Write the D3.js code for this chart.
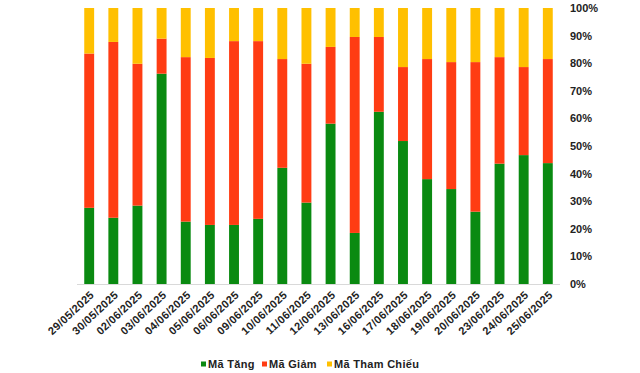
<!DOCTYPE html>
<html>
<head>
<meta charset="utf-8">
<script src="https://cdn.jsdelivr.net/npm/d3@7"></script>
<style>
  body { margin: 0; background: #fff; }
  text { font-family: Arial, "Liberation Sans", sans-serif; font-weight: bold; fill: #222; }
</style>
</head>
<body>
<div id="chart"></div>
<script>
var svgWidth = 640;
var svgHeight = 373;

// Data (percent of codes)
var dates = ["29/05/2025", "30/05/2025", "02/06/2025", "03/06/2025", "04/06/2025",
  "05/06/2025", "06/06/2025", "09/06/2025", "10/06/2025", "11/06/2025",
  "12/06/2025", "13/06/2025", "16/06/2025", "17/06/2025", "18/06/2025",
  "19/06/2025", "20/06/2025", "23/06/2025", "24/06/2025", "25/06/2025"];
var maTang = [27.6, 24.0, 28.4, 76.2, 22.6, 21.4, 21.4, 23.6, 42.1, 29.5,
  58.1, 18.5, 62.4, 51.8, 38.0, 34.4, 26.2, 43.6, 46.7, 43.8];
var maGiam = [55.9, 63.7, 51.4, 12.7, 59.6, 60.5, 66.6, 64.4, 39.4, 50.3,
  27.8, 71.0, 27.1, 26.8, 43.5, 46.0, 54.2, 38.6, 31.9, 37.7];
var maThamChieu = [16.5, 12.3, 20.2, 11.1, 17.8, 18.1, 12.0, 12.0, 18.5, 20.2,
  14.1, 10.5, 10.5, 21.4, 18.5, 19.6, 19.6, 17.8, 21.4, 18.5];
var seriesNames = ["Mã Tăng", "Mã Giảm", "Mã Tham Chiếu"];
var yTicks = [0, 10, 20, 30, 40, 50, 60, 70, 80, 90, 100];

var colors = ["#0a8a11", "#ff3c13", "#ffc000"];

var margin = { top: 8, right: 80, bottom: 89, left: 77 };
var chartWidth = svgWidth - margin.left - margin.right;
var chartHeight = svgHeight - margin.top - margin.bottom;

var svg = d3.select("#chart")
  .append("svg")
  .attr("width", svgWidth)
  .attr("height", svgHeight);

var chartGroup = svg.append("g")
  .attr("transform", `translate(${margin.left}, ${margin.top})`);

// Build rows for the stack
var rows = dates.map(function(d, i) {
  return { date: d, a: maTang[i], b: maGiam[i], c: maThamChieu[i] };
});
var stack = d3.stack().keys(["a", "b", "c"])
  .offset(d3.stackOffsetExpand);
var layers = stack(rows);

var xScale = d3.scaleBand()
  .domain(dates)
  .range([0, chartWidth])
  .paddingInner(0.59)
  .paddingOuter(0.3);

var yScale = d3.scaleLinear()
  .domain([0, 1])
  .range([chartHeight, 0]);

// Bars
chartGroup.selectAll("g.layer")
  .data(layers)
  .enter()
  .append("g")
  .attr("class", "layer")
  .attr("fill", (d, i) => colors[i])
  .selectAll("rect")
  .data(d => d)
  .enter()
  .append("rect")
  .attr("x", d => xScale(d.data.date))
  .attr("y", d => yScale(d[1]))
  .attr("width", xScale.bandwidth())
  .attr("height", d => yScale(d[0]) - yScale(d[1]));

// Baseline
chartGroup.append("line")
  .attr("x1", 0)
  .attr("x2", chartWidth)
  .attr("y1", chartHeight + 0.5)
  .attr("y2", chartHeight + 0.5)
  .attr("stroke", "#d9d9d9")
  .attr("stroke-width", 1);

// Right axis
var rightAxis = d3.axisRight(yScale)
  .tickValues(yTicks.map(v => v / 100))
  .tickFormat(v => Math.round(v * 100) + "%")
  .tickSize(0)
  .tickPadding(0);

var yAxis = chartGroup.append("g")
  .attr("transform", `translate(${chartWidth + 10}, 0)`)
  .call(rightAxis);
yAxis.select(".domain").remove();
yAxis.selectAll("text")
  .style("font-size", "11px")
  .attr("fill", "#222");

// Bottom axis (rotated labels)
var bottomAxis = d3.axisBottom(xScale).tickSize(0).tickPadding(0);
var xAxis = chartGroup.append("g")
  .attr("transform", `translate(0, ${chartHeight})`)
  .call(bottomAxis);
xAxis.select(".domain").remove();
xAxis.selectAll("text")
  .style("font-size", "11px")
  .style("letter-spacing", "0.3px")
  .attr("fill", "#222")
  .attr("text-anchor", "end")
  .attr("dy", "0.35em")
  .attr("transform", "translate(3, 9) rotate(-43)");

// Legend
var legendX = [201, 262, 327];
var legend = svg.append("g");
seriesNames.forEach(function(name, i) {
  legend.append("rect")
    .attr("x", legendX[i])
    .attr("y", 361.5)
    .attr("width", 5)
    .attr("height", 5)
    .attr("fill", colors[i]);
  legend.append("text")
    .attr("x", legendX[i] + 7)
    .attr("y", 367.5)
    .style("font-size", "11px")
    .style("letter-spacing", "0.3px")
    .text(name);
});
</script>
</body>
</html>
